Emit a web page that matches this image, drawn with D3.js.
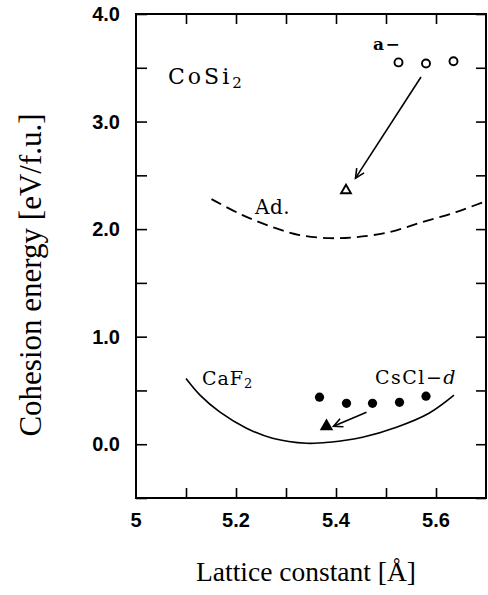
<!DOCTYPE html>
<html><head><meta charset="utf-8">
<script src="https://cdn.jsdelivr.net/npm/d3@7"></script>
<style>body{margin:0;background:#fff}svg{display:block}</style>
</head><body>
<script>
// ---- data ----
const xTicks = [5.0, 5.2, 5.4, 5.6];
const xTickLabels = ["5", "5.2", "5.4", "5.6"];
const yTicks = [0, 1, 2, 3, 4];
const yTickLabels = ["0.0", "1.0", "2.0", "3.0", "4.0"];
const adX = [5.151, 5.213, 5.273, 5.327, 5.387, 5.441, 5.507, 5.572, 5.640, 5.700, 5.72];
const adY = [2.279, 2.13, 2.019, 1.945, 1.916, 1.926, 1.972, 2.065, 2.158, 2.26, 2.29];
const caf2X = [5.100, 5.128, 5.168, 5.221, 5.273, 5.341, 5.387, 5.453, 5.521, 5.586, 5.636];
const caf2Y = [0.610, 0.456, 0.298, 0.149, 0.056, 0.009, 0.019, 0.065, 0.158, 0.288, 0.456];
const amorphX = [5.525, 5.580, 5.635];
const amorphY = [3.55, 3.54, 3.56];
const adTriX = [5.420];
const adTriY = [2.36];
const csclX = [5.367, 5.421, 5.473, 5.527, 5.580];
const csclY = [0.437, 0.38, 0.38, 0.39, 0.447];
const csclTriX = [5.381];
const csclTriY = [0.167];
const arrowsX = [[5.570, 5.439], [5.461, 5.395]];
const arrowsY = [[3.414, 2.474], [0.298, 0.167]];

const W = 488, H = 595;
const m = {l: 136, r: 486, t: 14, b: 498};
const svg = d3.select("body").append("svg").attr("width", W).attr("height", H);
const x = d3.scaleLinear().domain([5.0, 5.7]).range([m.l, m.r]);
const y = d3.scaleLinear().domain([-0.5, 4.0]).range([m.b, m.t]);

svg.append("defs").append("clipPath").attr("id", "clip")
  .append("rect").attr("x", m.l).attr("y", m.t).attr("width", m.r - m.l).attr("height", m.b - m.t);

const tickFont = "'Liberation Sans', Arial, sans-serif";
const serif = "'Liberation Serif', 'Times New Roman', serif";
const slab = "'DejaVu Serif', serif";

// axes with inward ticks
const minorX = d3.range(5.1, 5.65, 0.1);
const minorY = d3.range(-0.5, 4.01, 0.5);
const gB = svg.append("g").attr("transform", `translate(0,${m.b})`)
  .call(d3.axisTop(x).tickValues(minorX).tickSize(10).tickFormat(""));
const gT = svg.append("g").attr("transform", `translate(0,${m.t})`)
  .call(d3.axisBottom(x).tickValues(minorX).tickSize(10).tickFormat(""));
const gL = svg.append("g").attr("transform", `translate(${m.l},0)`)
  .call(d3.axisRight(y).tickValues(minorY).tickSize(11).tickFormat(""));
const gR = svg.append("g").attr("transform", `translate(${m.r},0)`)
  .call(d3.axisLeft(y).tickValues(minorY).tickSize(10).tickFormat(""));
[gB, gT, gL, gR].forEach(g => {
  g.select(".domain").remove();
  g.selectAll(".tick line").attr("stroke", "#000").attr("stroke-width", 1.6);
});
svg.append("rect").attr("x", m.l).attr("y", m.t).attr("width", m.r - m.l).attr("height", m.b - m.t)
  .attr("fill", "none").attr("stroke", "#000").attr("stroke-width", 2);

// tick labels
svg.append("g").selectAll("text").data(xTicks).join("text")
  .attr("x", d => x(d)).attr("y", 527).attr("text-anchor", "middle")
  .attr("font-family", tickFont).attr("font-weight", "bold").attr("font-size", 20)
  .text((d, i) => xTickLabels[i]);
svg.append("g").selectAll("text").data(yTicks).join("text")
  .attr("x", 120).attr("y", d => y(d)).attr("dy", "0.36em").attr("text-anchor", "end")
  .attr("font-family", tickFont).attr("font-weight", "bold").attr("font-size", 20)
  .text((d, i) => yTickLabels[i]);

// axis titles
svg.append("text").attr("transform", "translate(41,275) rotate(-90)")
  .attr("text-anchor", "middle").attr("font-family", serif).attr("font-size", 31)
  .text("Cohesion energy [eV/f.u.]");
svg.append("text").attr("x", 306).attr("y", 581).attr("text-anchor", "middle")
  .attr("font-family", serif).attr("font-size", 27.5).text("Lattice constant [Å]");

const plot = svg.append("g").attr("clip-path", "url(#clip)");
const line = d3.line().x(d => x(d[0])).y(d => y(d[1])).curve(d3.curveCatmullRom);

plot.append("path").datum(adX.map((v, i) => [v, adY[i]])).attr("d", line)
  .attr("fill", "none").attr("stroke", "#000").attr("stroke-width", 1.8).attr("stroke-dasharray", "11,6");
plot.append("path").datum(caf2X.map((v, i) => [v, caf2Y[i]])).attr("d", line)
  .attr("fill", "none").attr("stroke", "#000").attr("stroke-width", 1.6);

// markers
plot.append("g").selectAll("circle").data(amorphX).join("circle")
  .attr("cx", d => x(d)).attr("cy", (d, i) => y(amorphY[i])).attr("r", 4)
  .attr("fill", "#fff").attr("stroke", "#000").attr("stroke-width", 1.9);
plot.append("g").selectAll("circle").data(csclX).join("circle")
  .attr("cx", d => x(d)).attr("cy", (d, i) => y(csclY[i])).attr("r", 4.6).attr("fill", "#000");
const tri = d3.symbol().type(d3.symbolTriangle);
plot.append("g").selectAll("path").data(adTriX).join("path")
  .attr("transform", (d, i) => `translate(${x(d)},${y(adTriY[i])})`).attr("d", tri.size(42))
  .attr("fill", "#fff").attr("stroke", "#000").attr("stroke-width", 1.9);
plot.append("g").selectAll("path").data(csclTriX).join("path")
  .attr("transform", (d, i) => `translate(${x(d)},${y(csclTriY[i])})`).attr("d", tri.size(80))
  .attr("fill", "#000");

// arrows
arrowsX.forEach((ax, k) => {
  const ay = arrowsY[k];
  const x1 = x(ax[0]), y1 = y(ay[0]), x2 = x(ax[1]), y2 = y(ay[1]);
  plot.append("line").attr("x1", x1).attr("y1", y1).attr("x2", x2).attr("y2", y2)
    .attr("stroke", "#000").attr("stroke-width", 1.6);
  const ang = Math.atan2(y1 - y2, x1 - x2), L = 10, sp = 0.45;
  const p = a => [x2 + L * Math.cos(a), y2 + L * Math.sin(a)];
  const a1 = p(ang + sp), a2 = p(ang - sp);
  plot.append("path").attr("d", `M${a1[0]},${a1[1]}L${x2},${y2}L${a2[0]},${a2[1]}`)
    .attr("fill", "none").attr("stroke", "#000").attr("stroke-width", 1.6);
});

// labels
const t1 = svg.append("text").attr("x", 168).attr("y", 84).attr("font-family", slab).attr("font-size", 22).attr("letter-spacing", 3);
t1.append("tspan").text("CoSi");
t1.append("tspan").attr("font-size", 15).attr("dy", 4).text("2");
svg.append("text").attr("x", 373).attr("y", 50).attr("font-family", slab).attr("font-weight", "bold").attr("font-size", 17).attr("letter-spacing", 1.5).text("a−");
svg.append("text").attr("x", 255).attr("y", 214).attr("font-family", slab).attr("font-size", 20).attr("letter-spacing", 0.5).text("Ad.");
const t2 = svg.append("text").attr("x", 202).attr("y", 385).attr("font-family", slab).attr("font-size", 19).attr("letter-spacing", 1);
t2.append("tspan").text("CaF");
t2.append("tspan").attr("font-size", 13).attr("dy", 3).text("2");
const t3 = svg.append("text").attr("x", 375).attr("y", 384).attr("font-family", slab).attr("font-size", 19).attr("letter-spacing", 1.5);
t3.append("tspan").text("CsCl−");
t3.append("tspan").attr("font-style", "italic").text("d");
</script>
</body></html>
